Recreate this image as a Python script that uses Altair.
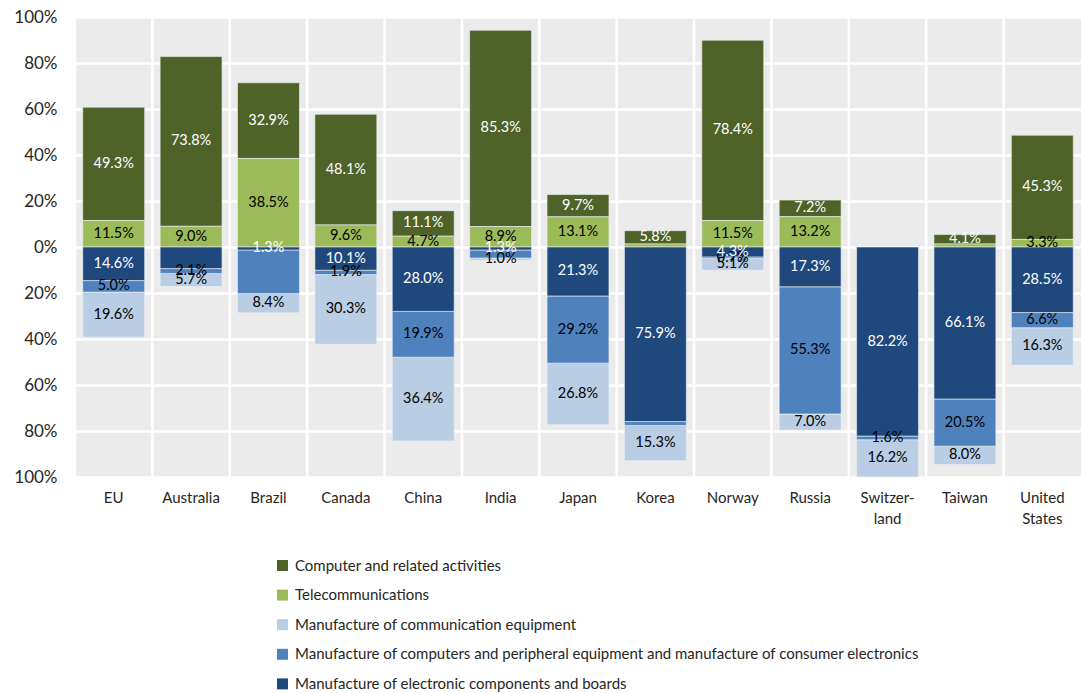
import altair as alt
import pandas as pd

countries = ["EU", "Australia", "Brazil", "Canada", "China", "India", "Japan",
             "Korea", "Norway", "Russia", "Switzer-\nland", "Taiwan", "United\nStates"]

series = ["Computer and related activities",
          "Telecommunications",
          "Manufacture of communication equipment",
          "Manufacture of computers and peripheral equipment and manufacture of consumer electronics",
          "Manufacture of electronic components and boards"]
colors = ["#4F6228", "#9BBB59", "#B9CDE5", "#4F81BD", "#1F497D"]
label_colors = ["white", "black", "black", "black", "white"]
# +1 stacks above zero, -1 stacks below zero
sides = [1, 1, -1, -1, -1]
# stacking order outward from zero
stack_rank = [2, 1, 5, 4, 3]

computer = [49.3, 73.8, 32.9, 48.1, 11.1, 85.3, 9.7, 5.8, 78.4, 7.2, 0.0, 4.1, 45.3]
telecom = [11.5, 9.0, 38.5, 9.6, 4.7, 8.9, 13.1, 1.3, 11.5, 13.2, 0.0, 1.3, 3.3]
comm_equip = [19.6, 5.7, 8.4, 30.3, 36.4, 1.0, 26.8, 15.3, 5.1, 7.0, 16.2, 8.0, 16.3]
computers_mfg = [5.0, 2.1, 18.9, 1.9, 19.9, 3.5, 29.2, 1.7, 0.7, 55.3, 1.6, 20.5, 6.6]
electronic = [14.6, 9.4, 1.3, 10.1, 28.0, 1.3, 21.3, 75.9, 4.3, 17.3, 82.2, 66.1, 28.5]

# segments whose value label is not shown in the original
hidden_labels = [("Australia", 4), ("Brazil", 3), ("India", 3), ("Korea", 1), ("Korea", 3), ("Taiwan", 1)]

values = [computer, telecom, comm_equip, computers_mfg, electronic]

rows = []
for ci, c in enumerate(countries):
    for si, s in enumerate(series):
        v = values[si][ci]
        if v <= 0:
            continue
        show = (c, si) not in hidden_labels
        rows.append({
            "country": c,
            "series": s,
            "signed": v * sides[si],
            "order": stack_rank[si],
            "label": f"{v:.1f}%" if show else "",
            "lcolor": label_colors[si],
        })
df = pd.DataFrame(rows)

x_axis = alt.Axis(title=None, labelExpr="split(datum.label, '\\n')", labelAngle=0,
                  ticks=False, domain=False, grid=False, labelPadding=13,
                  labelFontSize=15, labelColor="#262626", labelLineHeight=21,
                  labelBaseline="top", bandPosition=0.5)
x_scale = alt.Scale(paddingInner=0, paddingOuter=0)

x_enc = alt.X("country:N", sort=countries, scale=x_scale, axis=x_axis)

stacked = alt.Chart(df).transform_stack(
    stack="signed", groupby=["country"], as_=["y0", "y1"],
    sort=[alt.SortField("order", order="ascending")],
)

bars = stacked.mark_bar(stroke="#EEF2F6", strokeWidth=0.6, width={"band": 0.8}).encode(
    x=x_enc,
    y=alt.Y("y0:Q", scale=alt.Scale(domain=[-100, 100], nice=False),
            axis=alt.Axis(title=None, values=list(range(-100, 101, 20)),
                          labelExpr="abs(datum.value) + '%'", ticks=False, domain=False,
                          grid=True, gridColor="white", gridWidth=2.5,
                          labelFontSize=17, labelColor="#262626", labelPadding=18)),
    y2="y1:Q",
    color=alt.Color("series:N", scale=alt.Scale(domain=series, range=colors),
                    legend=alt.Legend(title=None, orient="none", legendX=200, legendY=541,
                                      direction="vertical", symbolType="square",
                                      symbolSize=121, symbolStrokeWidth=0,
                                      labelFontSize=15, labelColor="#262626",
                                      labelLimit=0, rowPadding=13.6, padding=0,
                                      labelOffset=5)),
)

texts = stacked.transform_filter("datum.label != ''").transform_calculate(
    mid="(datum.y0 + datum.y1) / 2"
).mark_text(fontSize=14.5, baseline="middle").encode(
    x=x_enc,
    y=alt.Y("mid:Q"),
    text="label:N",
    color=alt.Color("lcolor:N", scale=None),
)

rules = alt.Chart(pd.DataFrame({"country": countries})).mark_rule(
    color="white", strokeWidth=2.5
).encode(x=alt.X("country:N", sort=countries, bandPosition=0, scale=x_scale, axis=x_axis))

chart = alt.layer(rules, bars, texts).properties(
    width=1006, height=460,
    autosize="none",
    padding={"left": 75, "top": 17, "right": 0, "bottom": 216},
).configure(font="Lato").configure_view(fill="#EBEBEB", strokeWidth=0)

chart.save("out.html", embed_options={"renderer": "svg", "actions": False})
